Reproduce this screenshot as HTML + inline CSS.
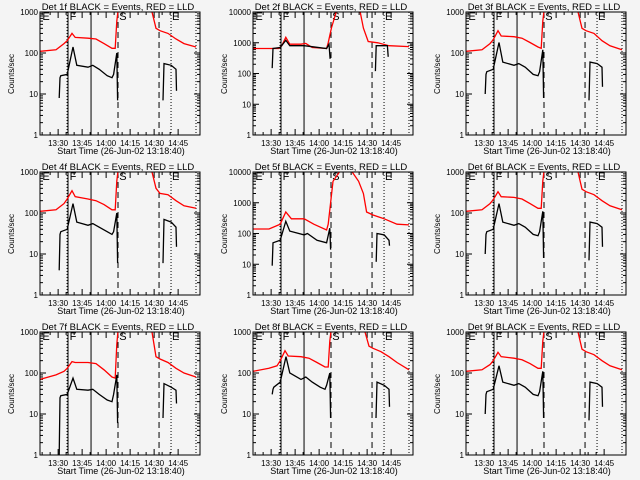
<!DOCTYPE html>
<html><head><meta charset="utf-8"><style>
body{margin:0;background:#f4f4f4;}
svg{display:block;font-family:"Liberation Sans",sans-serif;}
</style></head><body>
<svg id="chart" width="640" height="480" viewBox="0 0 640 480" xmlns="http://www.w3.org/2000/svg">
<rect width="640" height="480" fill="#f4f4f4"/>
</svg>
<script>
const detectors = ["1f","2f","3f","4f","5f","6f","7f","8f","9f"];
const decadesPerPanel = [3,4,3,3,4,3,3,3,3];
const xTickLabels = ["13:30","13:45","14:00","14:15","14:30","14:45"];
const xTickTimes = [11.33,26.33,41.33,56.33,71.33,86.33];
const markerTimes = [16.9,17.5,31.9,48.75,74.4,81.9,97.5];
const markerStyles = ["dot","solid","solid","dash","dash","dot","dot"];
const letterTimes = [1.5,18.5,49.5,82.5];
const letterText = ["E","F","S","E"];

const redTA1 = [0,10,15,17,20,22,30,35,40,45,47,48,48.7];
const redTA2 = [70,72.5,75,80,85,90,97.5];
const blkTA1 = [12,12.5,13,17,20.6,23,30,33,37,42,45,46,48,48.5];
const blkTA2 = [76.9,77.5,82,85,85.3];
const redTB1 = [0,16,18,20.5,23,30,33,37,46,47,49,52];
const redTB2 = [67,69,72,78,85,97.5];
const redTC1 = [0,10,17,20.5,24,32,38,46,47,48.5,50,54];
const redTC2 = [62,66,69,71,75,82,90,97.5];
const blkTB1 = [12,12.5,17,20.5,23,32,46,47.5,48.2];
const blkTB2 = [76.5,77,84,84.5];
const blkTC1 = [12,12.5,17,20.5,23,32,34,40,46,48,48.5];
const blkTC2 = [77,77.5,82,85,85.3];

const redV1a = [110,120,170,200,300,240,230,220,170,130,130,600,1500];
const redV1b = [1500,400,350,300,220,170,140];
const blkV1a = [8,25,28,30,140,50,45,50,40,28,25,30,100,7];
const blkV1b = [7,55,50,40,12];
const redV2a = [650,650,800,1500,900,900,950,700,650,1000,3000,12000];
const redV2b = [12000,3000,1100,1000,800,750];
const blkV2a = [150,650,700,1200,800,800,650,900,300];
const blkV2b = [120,800,800,350];
const redV3a = [110,120,170,210,350,260,250,230,180,140,130,600,1500];
const redV3b = [1500,400,350,300,200,150,120];
const blkV3a = [10,30,35,40,180,60,50,55,45,30,28,35,120,8];
const blkV3b = [7,60,55,45,15];
const redV4a = [110,120,170,220,350,250,220,200,160,120,120,600,1500];
const redV4b = [1500,400,300,280,200,150,130];
const blkV4a = [4,30,35,40,170,60,50,55,45,35,30,35,100,6];
const blkV4b = [6,70,60,45,15];
const redV5a = [140,140,200,500,300,300,200,130,200,1000,5000,12000];
const redV5b = [12000,5000,2000,500,400,300,200,190];
const blkV5a = [9,50,60,250,120,90,100,60,50,150,30];
const blkV5b = [12,100,90,60,40];
const redV6a = [110,120,170,210,330,250,240,220,170,130,130,600,1500];
const redV6b = [1500,380,330,280,200,150,120];
const blkV6a = [10,30,35,40,170,60,50,55,45,30,28,35,110,8];
const blkV6b = [7,60,55,45,15];
const redV7a = [70,90,110,130,190,180,180,170,120,80,75,500,1500];
const redV7b = [1500,250,220,180,130,100,80];
const blkV7a = [1,25,28,30,75,40,38,40,30,22,20,30,90,6];
const blkV7b = [8,55,45,38,18];
const redV8a = [110,130,150,200,350,260,250,230,180,140,140,600,1500];
const redV8b = [1500,450,400,330,250,180,120];
const blkV8a = [30,40,45,60,250,100,70,80,60,45,40,50,100,8];
const blkV8b = [8,60,50,40,15];
const redV9a = [110,120,160,200,320,250,230,210,170,130,130,600,1500];
const redV9b = [1500,380,330,280,200,150,120];
const blkV9a = [10,30,35,40,150,60,50,55,45,30,28,35,110,8];
const blkV9b = [7,60,55,45,15];

const series = [
 [[redTA1,redV1a],[redTA2,redV1b],[blkTA1,blkV1a],[blkTA2,blkV1b]],
 [[redTB1,redV2a],[redTB2,redV2b],[blkTB1,blkV2a],[blkTB2,blkV2b]],
 [[redTA1,redV3a],[redTA2,redV3b],[blkTA1,blkV3a],[blkTA2,blkV3b]],
 [[redTA1,redV4a],[redTA2,redV4b],[blkTA1,blkV4a],[blkTA2,blkV4b]],
 [[redTC1,redV5a],[redTC2,redV5b],[blkTC1,blkV5a],[blkTC2,blkV5b]],
 [[redTA1,redV6a],[redTA2,redV6b],[blkTA1,blkV6a],[blkTA2,blkV6b]],
 [[redTA1,redV7a],[redTA2,redV7b],[blkTA1,blkV7a],[blkTA2,blkV7b]],
 [[redTA1,redV8a],[redTA2,redV8b],[blkTA1,blkV8a],[blkTA2,blkV8b]],
 [[redTA1,redV9a],[redTA2,redV9b],[blkTA1,blkV9a],[blkTA2,blkV9b]]
];

const NS="http://www.w3.org/2000/svg";
const svg=document.getElementById('chart');
function mk(tag,attrs,parent){const e=document.createElementNS(NS,tag);for(const k in attrs)e.setAttribute(k,attrs[k]);parent.appendChild(e);return e;}

detectors.forEach((det,i)=>{
  const ox=(i%3)*213, oy=Math.floor(i/3)*160;
  const L=ox+40,R=ox+200,T=oy+12,B=oy+135;
  const dec=decadesPerPanel[i];
  const xS=t=>L+t*1.6;
  const yS=v=>{const y=B-Math.log10(Math.max(v,1))/dec*(B-T);return Math.max(T,Math.min(B,y));};
  const g=mk('g',{},svg);
  
  
  const title=mk('text',{x:ox+118,y:oy+10,'font-size':9.5,'text-anchor':'middle',fill:'#000'},g);
  title.textContent='Det '+det+' BLACK = Events, RED = LLD';
  
  
  const yl=mk('text',{x:ox+14,y:oy+74,'font-size':8,'text-anchor':'middle',transform:`rotate(-90 ${ox+14} ${oy+74})`},g);
  yl.textContent='Counts/sec';
  
  
  const xl=mk('text',{x:ox+121,y:oy+154,'font-size':9,'text-anchor':'middle'},g);
  xl.textContent='Start Time (26-Jun-02 13:18:40)';
  
  
  for(let d=0;d<=dec;d++){
    const y=B-d/dec*(B-T);
    mk('line',{x1:L,x2:L+6,y1:y,y2:y,stroke:'#000'},g);
    mk('line',{x1:R,x2:R-6,y1:y,y2:y,stroke:'#000'},g);
    const tl=mk('text',{x:L-2,y:y+3,'font-size':8,'text-anchor':'end'},g);
    tl.textContent=String(Math.pow(10,d));
    
    
    if(d<dec)for(let m=2;m<10;m++){const ym=B-(d+Math.log10(m))/dec*(B-T);
      mk('line',{x1:L,x2:L+3,y1:ym,y2:ym,stroke:'#000'},g);mk('line',{x1:R,x2:R-3,y1:ym,y2:ym,stroke:'#000'},g);}
  }
  xTickTimes.forEach((t,k)=>{const x=xS(t);
    mk('line',{x1:x,x2:x,y1:B,y2:B-6,stroke:'#000'},g);mk('line',{x1:x,x2:x,y1:T,y2:T+6,stroke:'#000'},g);
    const tl=mk('text',{x:x,y:oy+146,'font-size':8,'text-anchor':'middle'},g);
    tl.textContent=xTickLabels[k];
    
    
    for(let m=1;m<3;m++){const xm=xS(t-5*m);if(xm>L){mk('line',{x1:xm,x2:xm,y1:B,y2:B-3,stroke:'#000'},g);mk('line',{x1:xm,x2:xm,y1:T,y2:T+3,stroke:'#000'},g);}}
  });
  markerTimes.forEach((t,k)=>{const x=xS(t);const s=markerStyles[k];
    const ln=mk('line',{x1:x,x2:x,y1:T,y2:B,stroke:'#000','stroke-width':1,'stroke-dasharray':s==='dot'?'1,2':(s==='dash'?'6,4':'none')},g);
    
    
  });
  letterTimes.forEach((t,k)=>{const lt=mk('text',{x:xS(t),y:T+8,'font-size':11},g);lt.textContent=letterText[k];
    
    });
  series[i].forEach((s,k)=>{
    const [ts,vs]=s;
    const pts=ts.map((t,j)=>xS(t).toFixed(1)+','+yS(vs[j]).toFixed(1)).join(' ');
    const pl=mk('polyline',{points:pts,fill:'none',stroke:k<2?'#ff0000':'#000','stroke-width':1.3},g);
    
    
  });
  const box=mk('rect',{x:L,y:T,width:R-L,height:B-T,fill:'none',stroke:'#000'},g);
  
  
});
</script>
</body></html>
